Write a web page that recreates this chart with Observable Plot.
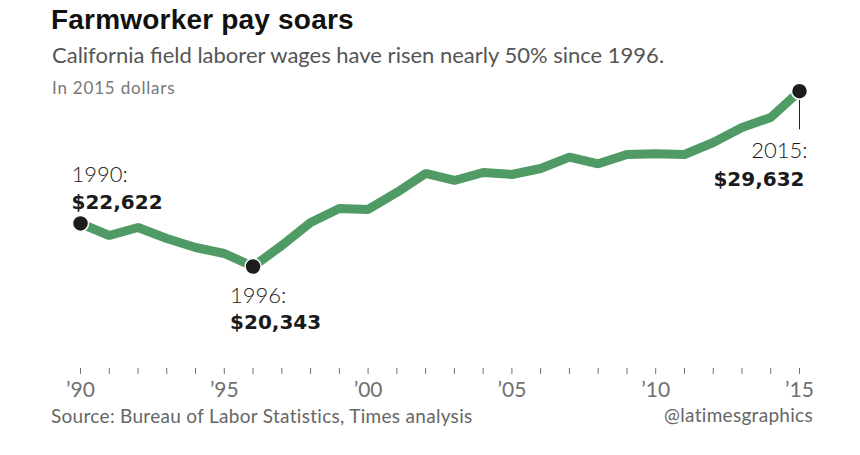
<!DOCTYPE html>
<html><head><meta charset="utf-8">
<script src="https://cdn.jsdelivr.net/npm/d3@7"></script>
<script src="https://cdn.jsdelivr.net/npm/@observablehq/plot@0.6"></script>
<style>
body{margin:0;background:#fff;}
#wrap{position:relative;width:860px;height:455px;overflow:hidden;font-family:Lato,"Open Sans",sans-serif;}
.t{position:absolute;white-space:nowrap;line-height:1;}
#title{left:51px;top:6.3px;font-family:"Liberation Sans",Arial,sans-serif;font-weight:bold;font-size:28px;color:#111;letter-spacing:0.2px;}
#sub{left:52px;top:43.8px;font-size:22px;color:#555;}
#note{left:52px;top:79.2px;font-size:17px;color:#777;letter-spacing:0.8px;}
#source{left:51px;top:406.2px;font-size:19px;color:#666;letter-spacing:0.3px;}
#credit{right:47px;top:405.2px;font-size:19px;color:#666;letter-spacing:0.3px;}
#chart{position:absolute;left:0;top:70px;}
#chart svg{overflow:visible;background:none;}
</style></head>
<body>
<div id="wrap">
  <div id="chart"></div>
  <div class="t" id="title">Farmworker pay soars</div>
  <div class="t" id="sub">California field laborer wages have risen nearly 50% since 1996.</div>
  <div class="t" id="note">In 2015 dollars</div>
  <div class="t" id="source">Source: Bureau of Labor Statistics, Times analysis</div>
  <div class="t" id="credit">@latimesgraphics</div>
</div>
<script>
const years = [1990,1991,1992,1993,1994,1995,1996,1997,1998,1999,2000,2001,2002,2003,2004,2005,2006,2007,2008,2009,2010,2011,2012,2013,2014,2015];
const wages = [22622,21986,22410,21827,21350,21032,20343,21456,22675,23417,23364,24265,25272,24901,25325,25219,25537,26136,25786,26279,26316,26279,26915,27710,28240,29632];
const highlightYears = [1990, 1996, 2015];

const data = years.map((year, i) => ({year, wage: wages[i]}));
const hl = data.filter(d => highlightYears.includes(d.year));
const fmt = d3.format("$,");
const tickFmt = d => d % 5 === 0 ? "\u2019" + String(d).slice(2) : "";

const green = "#4f9a65";
const yearFont = {fontFamily: "Lato, 'Open Sans', sans-serif", fontWeight: 300, fontSize: 22, fill: "#1a1a1a", lineAnchor: "bottom"};
const valFont = {fontFamily: "'DejaVu Sans', sans-serif", fontWeight: "bold", fontSize: 20, fill: "#1a1a1a", lineAnchor: "bottom"};
const pick = y => hl.filter(d => d.year === y);

const chart = Plot.plot({
  width: 860,
  height: 340,
  marginTop: 0, marginBottom: 42, marginLeft: 0, marginRight: 0,
  style: {fontFamily: "Lato, 'Open Sans', sans-serif", background: "none", overflow: "visible"},
  x: {domain: [1990, 2015], range: [80, 799]},
  y: {domain: [20343, 29632], range: [196, 20.7], axis: null},
  marks: [
    Plot.axisX({ticks: years, tickFormat: tickFmt, tickSize: 6, tickPadding: 8, fontSize: 21, color: "#707070", label: null}),
    Plot.line(data, {x: "year", y: "wage", stroke: green, strokeWidth: 9, strokeLinejoin: "miter", strokeLinecap: "butt"}),
    Plot.vector(pick(2015), {x: "year", y: "wage", length: 38, rotate: 180, anchor: "start", shape: "spike", r: 0, stroke: "#222", strokeWidth: 1, fill: "none"}),
    Plot.dot(hl, {x: "year", y: "wage", r: 8, fill: "#1c1c1c", stroke: "white", strokeWidth: 1.5}),
    Plot.text(pick(1990), {x: "year", y: "wage", text: d => d.year + ":", textAnchor: "start", dx: -9, dy: -41.6, ...yearFont}),
    Plot.text(pick(1990), {x: "year", y: "wage", text: d => fmt(d.wage), textAnchor: "start", dx: -9, dy: -14.3, ...valFont}),
    Plot.text(pick(1996), {x: "year", y: "wage", text: d => d.year + ":", textAnchor: "start", dx: -23, dy: 36.3, ...yearFont}),
    Plot.text(pick(1996), {x: "year", y: "wage", text: d => fmt(d.wage), textAnchor: "start", dx: -23, dy: 62.3, ...valFont}),
    Plot.text(pick(2015), {x: "year", y: "wage", text: d => d.year + ":", textAnchor: "end", dx: 8, dy: 66.6, ...yearFont}),
    Plot.text(pick(2015), {x: "year", y: "wage", text: d => fmt(d.wage), textAnchor: "end", dx: 5, dy: 94.3, ...valFont})
  ]
});
document.getElementById("chart").appendChild(chart);
</script>
</body></html>
